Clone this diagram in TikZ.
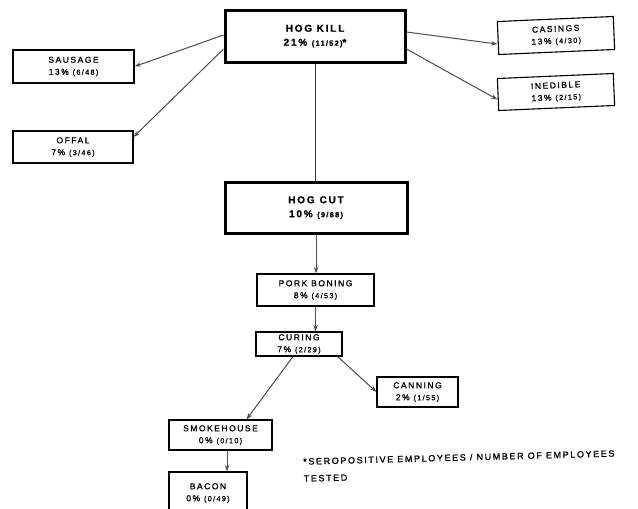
\documentclass[tikz,border=0pt]{standalone}
\usepackage{fontspec}
\newfontfamily\lettering[LetterSpace=18,FakeBold=1.2]{Liberation Sans}
\usetikzlibrary{positioning,arrows.meta}
\newcommand{\cnt}[1]{{\fontsize{7.3}{8}\selectfont #1}}

\begin{document}
\begin{tikzpicture}[x=1pt,y=-1pt]%
            \tikzstyle{stage}=[draw, line width=1.1pt, align=center, inner sep=0pt, font=\lettering\fontsize{8.5}{12}\selectfont];%
            \tikzstyle{mainstage}=[stage, line width=3pt, font=\lettering\bfseries\fontsize{10}{14}\selectfont];%
            \tikzstyle{flow}=[draw=black!70, line width=1pt, -{Stealth[length=6.5pt,width=4.5pt]}];%
            \useasboundingbox (0,0) rectangle (638,509);
            \node[mainstage, minimum width=180, minimum height=52] (kill) at (315,36) {HOG KILL\\21\% \cnt{(11/52)}*};
            \node[stage, minimum width=121, minimum height=33] (sausage) at (73.5,66.5) {SAUSAGE\\13\% \cnt{(6/48)}};
            \node[stage, minimum width=120, minimum height=32] (offal) at (73,147) {OFFAL\\7\% \cnt{(3/46)}};
            \node[stage, minimum width=116, minimum height=33, rotate=2.5] (casings) at (556,35.5) {CASINGS\\13\% \cnt{(4/30)}};
            \node[stage, minimum width=116, minimum height=32, rotate=2.5] (inedible) at (556,92) {INEDIBLE\\13\% \cnt{(2/15)}};
            \draw[flow] ([yshift=1pt]kill.west) -- (sausage.east);
            \draw[flow] ([yshift=-13pt]kill.west) -- ([yshift=10pt]offal.east);
            \draw[flow] ([yshift=4pt]kill.east) -- ([yshift=-6pt]casings.west);
            \draw[flow] ([yshift=-13pt]kill.east) -- ([yshift=-5pt]inedible.west);

            \node[mainstage, minimum width=182, minimum height=51] (cut) at (316,207.5) {HOG\enspace CUT\\10\% \cnt{(9/88)}};
            \draw[draw=black!80, line width=1pt] (kill.south) -- (kill.south |- cut.north);
            \node[stage, minimum width=117, minimum height=32] (boning) at (315.5,290) {PORK BONING\\8\% \cnt{(4/53)}};
            \draw[flow] (cut.south) -- (cut.south |- boning.north);
            \node[stage, minimum width=86, minimum height=24] (curing) at (299,344) {CURING\\7\% \cnt{(2/29)}};
            \draw[flow] (boning.south) -- (boning.south |- curing.north);
            \node[stage, minimum width=81, minimum height=30] (canning) at (417.5,392) {CANNING\\2\% \cnt{(1/55)}};
            \draw[flow] ([xshift=-5pt]curing.south east) -- (canning.west);
            \node[stage, minimum width=103, minimum height=30] (smokehouse) at (220.5,435) {SMOKEHOUSE\\0\% \cnt{(0/10)}};
            \draw[flow] ([xshift=-6pt]curing.south) -- ([xshift=26pt]smokehouse.north);
            \node[stage, minimum width=78, minimum height=42] (bacon) at (208,493) {BACON\\0\% \cnt{(0/49)}};
            \draw[flow] ([xshift=6.5pt]smokehouse.south) -- ([xshift=6.5pt]smokehouse.south |- bacon.north);

            \node[align=left, anchor=north west, inner sep=0pt, rotate=1.5, font=\lettering\fontsize{9}{17}\selectfont] (note) at (303,458) {*SEROPOSITIVE EMPLOYEES / NUMBER OF EMPLOYEES\\TESTED};
        \end{tikzpicture}
\end{document}
